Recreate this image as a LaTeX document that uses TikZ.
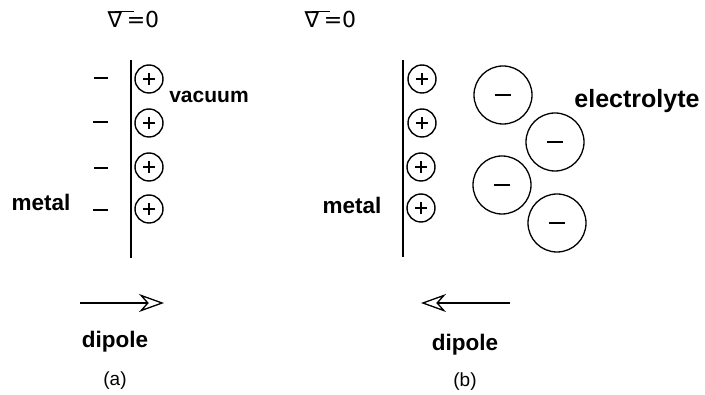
\documentclass[tikz,border=0pt]{standalone}
\usepackage{fontspec}
\setmainfont{Liberation Sans}
\newfontfamily\symfont{DejaVu Sans}
\usetikzlibrary{arrows.meta}
\tikzset{
  lbl/.style={font=\fontsize{22.5}{22.5}\selectfont\bfseries, inner sep=0pt},
  captext/.style={font=\fontsize{19}{19}\selectfont, inner sep=0pt},
  pot/.style={font=\fontsize{22}{22}\selectfont\symfont\mdseries, inner sep=0pt},
  potbar/.style={line width=1pt},
  wall/.style={line width=1.4pt},
  pion/.style={circle, draw, line width=1.4pt, minimum size=28pt, inner sep=0pt,
    path picture={\draw[line width=1.6pt] ([xshift=-6pt]path picture bounding box.center) -- ([xshift=6pt]path picture bounding box.center);
      \draw[line width=1.6pt] ([yshift=-6pt]path picture bounding box.center) -- ([yshift=6pt]path picture bounding box.center);}},
  nion/.style={circle, draw, line width=1.3pt, minimum size=58pt, inner sep=0pt,
    path picture={\draw[line width=1.6pt] ([xshift=-8pt]path picture bounding box.center) -- ([xshift=8pt]path picture bounding box.center);}},
  echarge/.style={line width=1.6pt},
  dip/.style={line width=1.3pt, -{Stealth[open, length=25pt, width=18pt, inset=8pt, line width=1.3pt]}},
}
\begin{document}
\begin{tikzpicture}[x=1pt, y=-1pt]
\useasboundingbox (0,0) rectangle (705,395);
% ---------- panel (a)
\node[pot] (pa) at (115,20) {∇};
\node[pot, anchor=base west] (pa0) at ([xshift=4pt]pa.base east) {=0};
\draw[potbar] (pa.north) -- ([xshift=11pt]pa.north east);
\coordinate (wa1) at (131,60);
\coordinate (wa2) at (131,258);
\draw[wall] (wa1) -- (wa2);
\node[pion] (pa1) at (149,79) {};
\node[pion] (pa2) at (149,123) {};
\node[pion] (pa3) at (149,167) {};
\node[pion] (pa4) at (149,209) {};
\coordinate (ma1l) at (94,78);  \coordinate (ma1r) at (108,78);
\coordinate (ma2l) at (93,122); \coordinate (ma2r) at (108,122);
\coordinate (ma3l) at (94,168); \coordinate (ma3r) at (108,168);
\coordinate (ma4l) at (93,210); \coordinate (ma4r) at (108,210);
\draw[echarge] (ma1l) -- (ma1r);
\draw[echarge] (ma2l) -- (ma2r);
\draw[echarge] (ma3l) -- (ma3r);
\draw[echarge] (ma4l) -- (ma4r);
\node[lbl, font=\fontsize{21}{21}\selectfont\bfseries] (vac) at (209,97) {vacuum};
\node[lbl] (meta) at (41,202) {metal};
\coordinate (da1) at (80,303);
\coordinate (da2) at (164,303);
\draw[dip] (da1) -- (da2);
\node[lbl] (dipa) at (115,342) {dipole};
\node[captext] (capa) at (115,381) {(a)};
% ---------- panel (b)
\node[pot] (pb) at (312,20) {∇};
\node[pot, anchor=base west] (pb0) at ([xshift=4pt]pb.base east) {=0};
\draw[potbar] (pb.north) -- ([xshift=10pt]pb.north east);
\coordinate (wb1) at (403,60);
\coordinate (wb2) at (403,257);
\draw[wall] (wb1) -- (wb2);
\node[pion] (pb1) at (422,79) {};
\node[pion] (pb2) at (422,123) {};
\node[pion] (pb3) at (421,167) {};
\node[pion] (pb4) at (421,208) {};
\node[nion] (n1) at (503,95) {};
\node[nion] (n2) at (555,142) {};
\node[nion] (n3) at (502,185) {};
\node[nion] (n4) at (557,223) {};
\node[lbl, font=\fontsize{25}{25}\selectfont\bfseries] (elec) at (637,101) {electrolyte};
\node[lbl] (metb) at (352,205) {metal};
\coordinate (db1) at (510,303);
\coordinate (db2) at (421,303);
\draw[dip] (db1) -- (db2);
\node[lbl] (dipb) at (465,345) {dipole};
\node[captext] (capb) at (465,382) {(b)};
\end{tikzpicture}
\end{document}
